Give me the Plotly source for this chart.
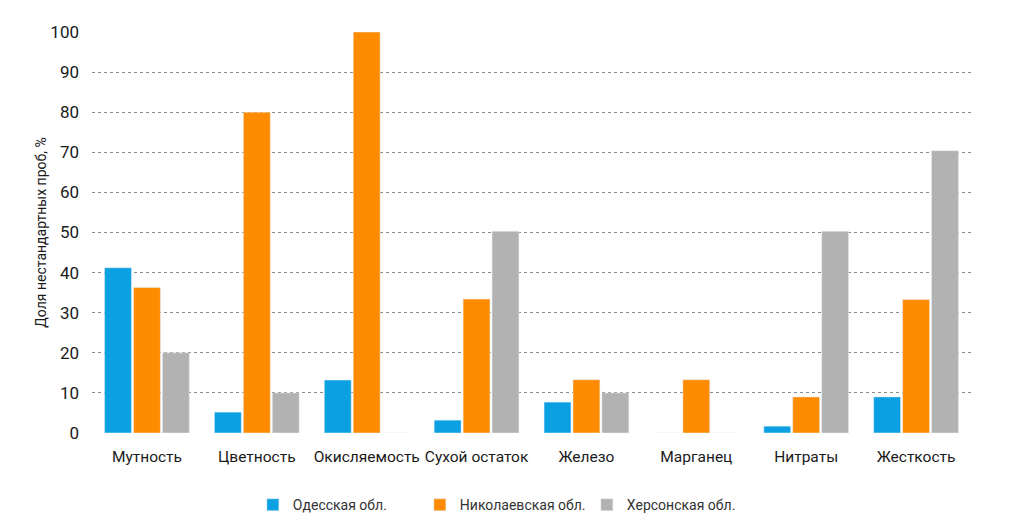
import plotly.graph_objects as go

# показатели и доли нестандартных проб, %
categories = ["Мутность", "Цветность", "Окисляемость", "Сухой остаток",
              "Железо", "Марганец", "Нитраты", "Жесткость"]
odessa = [41.2, 5.2, 13.2, 3.2, 7.7, 0, 1.7, 9.0]
nikolaev = [36.3, 80.0, 100.0, 33.4, 13.3, 13.3, 9.0, 33.3]
kherson = [20.0, 10.0, 0, 50.3, 10.0, 0, 50.3, 70.4]
y_ticks = list(range(0, 101, 10))

font_name = "Roboto, sans-serif"

fig = go.Figure()
fig.add_trace(go.Bar(x=categories, y=odessa, name="Одесская обл.",
                     marker_color="#0AA0E2"))
fig.add_trace(go.Bar(x=categories, y=nikolaev, name="Николаевская обл.",
                     marker_color="#FF8C00"))
fig.add_trace(go.Bar(x=categories, y=kherson, name="Херсонская обл.",
                     marker_color="#B2B2B2"))

fig.update_layout(
    width=1024, height=531,
    barmode="group", bargap=0.21, bargroupgap=0.07,
    plot_bgcolor="white", paper_bgcolor="white",
    margin=dict(l=84, r=61, t=24, b=106, autoexpand=False),
    font=dict(family=font_name, size=15, color="#1a1a1a"),
    legend=dict(orientation="h", x=0.468, xanchor="center", y=-0.14, yanchor="top",
                font=dict(size=14, color="#333333"), itemwidth=30,
                entrywidth=122, traceorder="normal"),
    showlegend=True,
)
fig.update_xaxes(showgrid=False, showline=False, ticks="", tickangle=0,
                 tickfont=dict(size=15.5), ticklabelstandoff=12)
fig.update_yaxes(range=[0, 100], tickvals=y_ticks, showgrid=True,
                 gridcolor="#8C8C8C", griddash="dot", gridwidth=1,
                 zeroline=False, showline=False, ticks="",
                 tickfont=dict(size=17), ticklabelstandoff=12,
                 title=dict(text="Доля нестандартных проб, %",
                            font=dict(size=14), standoff=0))

fig.write_html("out.html")
